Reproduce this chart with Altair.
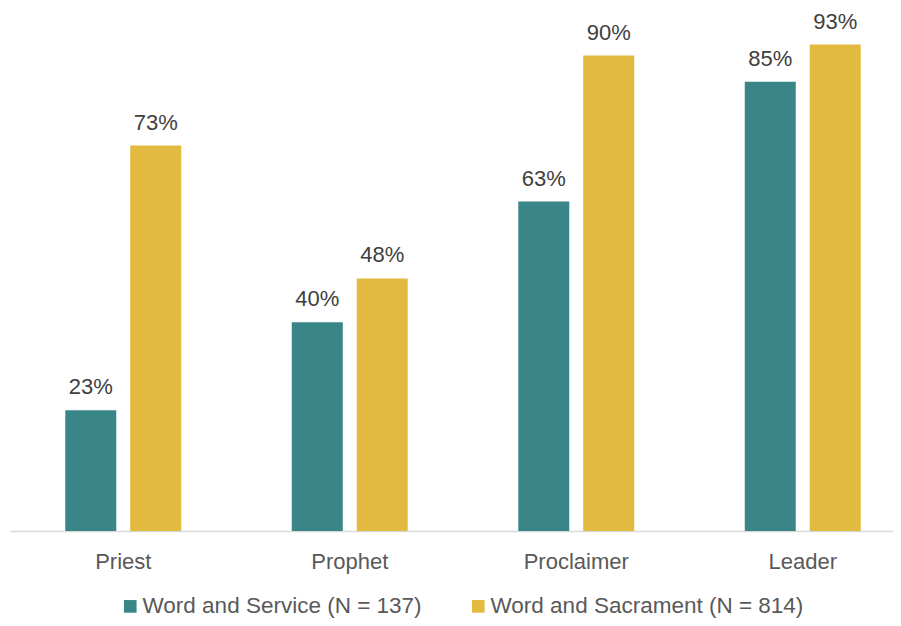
import altair as alt
import pandas as pd

categories = ["Priest", "Prophet", "Proclaimer", "Leader"]
series = ["Word and Service (N = 137)", "Word and Sacrament (N = 814)"]
service_values = [23.1, 39.9, 63.0, 85.9]
sacrament_values = [73.7, 48.3, 90.9, 93.0]
service_labels = ["23%", "40%", "63%", "85%"]
sacrament_labels = ["73%", "48%", "90%", "93%"]
colors = ["#3A8587", "#E2BA40"]

rows = []
for i, c in enumerate(categories):
    rows.append({"cat": c, "series": series[0], "value": service_values[i], "label": service_labels[i]})
    rows.append({"cat": c, "series": series[1], "value": sacrament_values[i], "label": sacrament_labels[i]})
df = pd.DataFrame(rows)

FONT = "Liberation Sans"

x = alt.X(
    "cat:N",
    sort=categories,
    title=None,
    scale=alt.Scale(range=[0, 906], paddingInner=0.488, paddingOuter=0.244),
    axis=alt.Axis(
        labelAngle=0,
        ticks=False,
        domainColor="#D9D9D9",
        domainWidth=1.5,
        labelFont=FONT,
        labelFontSize=22,
        labelColor="#595959",
        labelPadding=20,
    ),
)
xo = alt.XOffset("series:N", sort=series, scale=alt.Scale(paddingInner=0.215))
y = alt.Y("value:Q", scale=alt.Scale(domain=[0, 100]), axis=None)

base = alt.Chart(df)

bars = base.mark_bar().encode(
    x=x,
    xOffset=xo,
    y=y,
    color=alt.Color(
        "series:N",
        sort=series,
        scale=alt.Scale(domain=series, range=colors),
        legend=alt.Legend(
            title=None,
            orient="none",
            direction="horizontal",
            legendX=109,
            legendY=587,
            symbolType="square",
            symbolSize=160,
            symbolStrokeWidth=0,
            labelFont=FONT,
            labelFontSize=22.5,
            labelColor="#595959",
            labelOffset=1,
            columnPadding=45,
            labelLimit=400,
        ),
    ),
)

text = base.mark_text(
    baseline="alphabetic", dy=-16, font=FONT, fontSize=22, color="#404040"
).encode(x=x, xOffset=xo, y=y, text="label:N")

chart = (
    alt.layer(bars, text)
    .properties(
        width=883,
        height=523,
        autosize=alt.AutoSizeParams(type="none"),
        padding={"left": 2, "top": 0, "right": 0, "bottom": 87},
        background="white",
    )
    .configure_view(stroke=None)
)

chart.save("out.html", embed_options={"renderer": "svg", "actions": False})
